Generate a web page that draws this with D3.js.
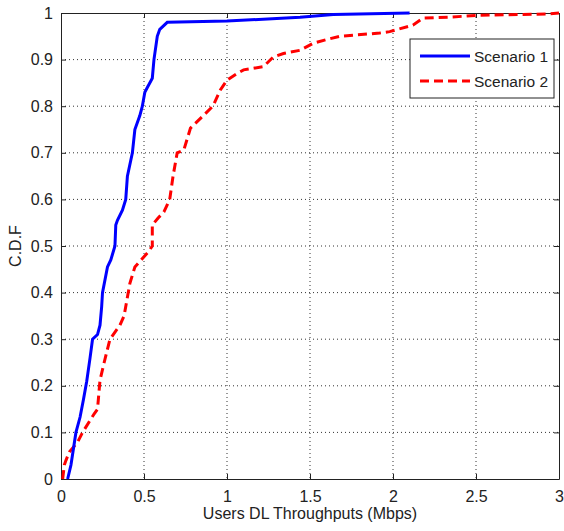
<!DOCTYPE html>
<html>
<head>
<meta charset="utf-8">
<script src="https://cdn.jsdelivr.net/npm/d3@7"></script>
<style>
  body { margin: 0; background: #fff; }
  text { font-family: "Liberation Sans", Arial, sans-serif; fill: #222; }
</style>
</head>
<body>
<div id="chart"></div>
<script>
// data (throughput Mbps, cdf)
var scenario1X = [0.04, 0.06, 0.09, 0.115, 0.135, 0.155, 0.175, 0.19, 0.22, 0.235, 0.245, 0.25, 0.28, 0.3, 0.325, 0.33, 0.34, 0.37, 0.39, 0.40, 0.43, 0.445, 0.475, 0.49, 0.505, 0.52, 0.55, 0.56, 0.58, 0.595, 0.64, 1.0, 1.3, 1.44, 1.64, 2.1];
var scenario1Y = [0.0, 0.03, 0.1, 0.133, 0.17, 0.21, 0.26, 0.3, 0.31, 0.33, 0.37, 0.4, 0.455, 0.47, 0.5, 0.545, 0.555, 0.577, 0.6, 0.65, 0.7, 0.75, 0.78, 0.8, 0.83, 0.84, 0.86, 0.9, 0.95, 0.965, 0.98, 0.983, 0.988, 0.991, 0.997, 1.0];
var scenario2X = [0.01, 0.02, 0.03, 0.05, 0.1, 0.13, 0.2, 0.22, 0.235, 0.26, 0.295, 0.355, 0.38, 0.415, 0.445, 0.47, 0.525, 0.55, 0.55, 0.585, 0.62, 0.655, 0.675, 0.70, 0.74, 0.78, 0.8, 0.915, 0.96, 1.0, 1.06, 1.1, 1.22, 1.28, 1.34, 1.44, 1.52, 1.6, 1.68, 1.92, 1.98, 2.12, 2.18, 2.33, 2.52, 2.93, 3.0];
var scenario2Y = [0.0, 0.03, 0.04, 0.058, 0.079, 0.1, 0.14, 0.15, 0.212, 0.25, 0.3, 0.33, 0.35, 0.42, 0.455, 0.465, 0.487, 0.5, 0.545, 0.56, 0.573, 0.6, 0.65, 0.7, 0.706, 0.753, 0.76, 0.8, 0.835, 0.856, 0.87, 0.878, 0.885, 0.906, 0.913, 0.92, 0.935, 0.943, 0.95, 0.957, 0.96, 0.974, 0.989, 0.991, 0.995, 0.998, 1.0];
var seriesNames = ["Scenario 1", "Scenario 2"];
var xTicks = [0, 0.5, 1, 1.5, 2, 2.5, 3];
var yTicks = [0, 0.1, 0.2, 0.3, 0.4, 0.5, 0.6, 0.7, 0.8, 0.9, 1];

var W = 564, H = 531;
var margin = {top: 13, right: 5, bottom: 52, left: 61};
var width = W - margin.left - margin.right,
    height = H - margin.top - margin.bottom;

var x = d3.scaleLinear().domain([0, 3]).range([0, width]);
var y = d3.scaleLinear().domain([0, 1]).range([height, 0]);

var svg = d3.select("#chart").append("svg")
    .attr("width", W)
    .attr("height", H)
  .append("g")
    .attr("transform", "translate(" + margin.left + "," + margin.top + ")");

// grid (dotted)
svg.append("g").selectAll("line.gx")
    .data(xTicks.slice(1, -1))
  .enter().append("line")
    .attr("x1", d => x(d)).attr("x2", d => x(d))
    .attr("y1", 0).attr("y2", height)
    .attr("stroke", "#333").attr("stroke-width", 1)
    .attr("stroke-dasharray", "1,3");
svg.append("g").selectAll("line.gy")
    .data(yTicks.slice(1, -1))
  .enter().append("line")
    .attr("y1", d => y(d)).attr("y2", d => y(d))
    .attr("x1", 0).attr("x2", width)
    .attr("stroke", "#333").attr("stroke-width", 1)
    .attr("stroke-dasharray", "1,3");

// axes, ticks inward
var fmt = d3.format("");
var xb = svg.append("g").attr("transform", "translate(0," + height + ")")
    .call(d3.axisBottom(x).tickValues(xTicks).tickSizeInner(-5).tickSizeOuter(0).tickPadding(12).tickFormat(fmt));
var xt = svg.append("g")
    .call(d3.axisTop(x).tickValues(xTicks).tickSizeInner(-5).tickSizeOuter(0).tickFormat(""));
var yl = svg.append("g")
    .call(d3.axisLeft(y).tickValues(yTicks).tickSizeInner(-5).tickSizeOuter(0).tickPadding(8).tickFormat(fmt));
var yr = svg.append("g").attr("transform", "translate(" + width + ",0)")
    .call(d3.axisRight(y).tickValues(yTicks).tickSizeInner(-5).tickSizeOuter(0).tickFormat(""));
[xb, xt, yl, yr].forEach(function(a) {
  a.selectAll(".domain").attr("stroke", "#222");
  a.selectAll(".tick line").attr("stroke", "#222");
  a.selectAll("text").style("font-size", "16px").attr("fill", "#222")
    .style("font-family", "'Liberation Sans', Arial, sans-serif");
});

// lines
var line = d3.line().x(d => x(d[0])).y(d => y(d[1]));
var s1 = d3.zip(scenario1X, scenario1Y), s2 = d3.zip(scenario2X, scenario2Y);
svg.append("path").datum(s2).attr("d", line)
    .attr("fill", "none").attr("stroke", "#ff0000").attr("stroke-width", 3)
    .attr("stroke-dasharray", "9,5");
svg.append("path").datum(s1).attr("d", line)
    .attr("fill", "none").attr("stroke", "#0000ff").attr("stroke-width", 3);

// legend
var lg = svg.append("g").attr("transform", "translate(" + (410 - margin.left) + "," + (39 - margin.top) + ")");
lg.append("rect").attr("width", 144).attr("height", 59)
    .attr("fill", "#fff").attr("stroke", "#222").attr("stroke-width", 1);
var colors = ["#0000ff", "#ff0000"], dashes = [null, "9,5"];
seriesNames.forEach(function(n, i) {
  lg.append("line").attr("x1", 10).attr("x2", 60)
      .attr("y1", 17 + i * 25).attr("y2", 17 + i * 25)
      .attr("stroke", colors[i]).attr("stroke-width", 3)
      .attr("stroke-dasharray", dashes[i]);
  lg.append("text").attr("x", 64).attr("y", 23 + i * 25)
      .style("font-size", "15.5px").text(n);
});

// axis labels
svg.append("text")
    .attr("x", width / 2).attr("y", height + 40)
    .style("text-anchor", "middle").style("font-size", "16px")
    .text("Users DL Throughputs (Mbps)");
svg.append("text")
    .attr("transform", "rotate(-90)")
    .attr("x", -height / 2).attr("y", -40)
    .style("text-anchor", "middle").style("font-size", "16px")
    .text("C.D.F");
</script>
</body>
</html>
